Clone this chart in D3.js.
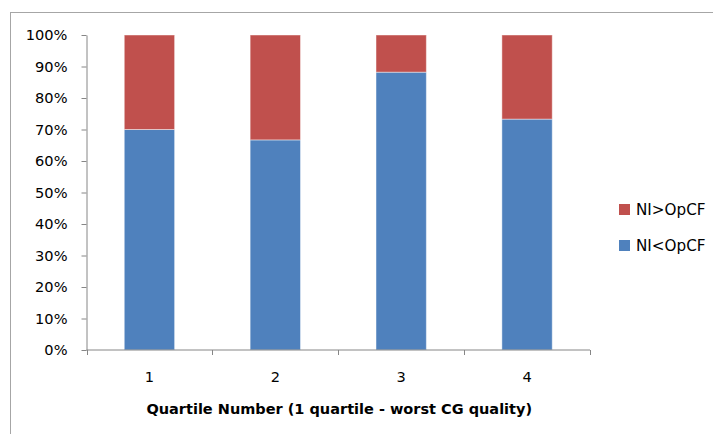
<!DOCTYPE html>
<html>
<head>
<meta charset="utf-8">
<script src="https://cdn.jsdelivr.net/npm/d3@7"></script>
<style>
  body { margin: 0; background: #fff; }
  svg text { font-family: "DejaVu Sans", sans-serif; fill: #000; }
</style>
</head>
<body>
<svg id="chart" width="713" height="434"></svg>
<script>
// Share of firms per corporate-governance quartile
const categories = ["1", "2", "3", "4"];
const seriesNames = ["NI<OpCF", "NI>OpCF"];
const niBelowOpCF = [0.700, 0.667, 0.882, 0.733];
const niAboveOpCF = [0.300, 0.333, 0.118, 0.267];
const seriesColors = ["#4F81BD", "#C0504D"];
const yTickValues = [0, 0.1, 0.2, 0.3, 0.4, 0.5, 0.6, 0.7, 0.8, 0.9, 1.0];
const xTitle = "Quartile Number (1 quartile - worst CG quality)";

const svg = d3.select("#chart");
const W = 713, H = 434;
const plot = { left: 86.5, right: 590, top: 35, bottom: 350 };

// outer chart frame
svg.append("rect")
  .attr("x", 10.5).attr("y", 12.5)
  .attr("width", W + 20).attr("height", H + 20)
  .attr("fill", "none").attr("stroke", "#a6a6a6").attr("stroke-width", 1);

const x = d3.scaleBand()
  .domain(categories)
  .range([plot.left, plot.right])
  .paddingInner(0.6)
  .paddingOuter(0.3);

const y = d3.scaleLinear().domain([0, 1]).range([plot.bottom, plot.top]);

// stack the two series
const rows = categories.map((c, i) => ({ cat: c, [seriesNames[0]]: niBelowOpCF[i], [seriesNames[1]]: niAboveOpCF[i] }));
const stacked = d3.stack().keys(seriesNames)(rows);

svg.append("g").selectAll("g")
  .data(stacked)
  .join("g")
  .attr("fill", (d, i) => seriesColors[i])
  .selectAll("rect")
  .data(d => d)
  .join("rect")
  .attr("x", d => x(d.data.cat))
  .attr("width", x.bandwidth())
  .attr("y", d => y(d[1]))
  .attr("height", d => y(d[0]) - y(d[1]))
  .attr("stroke", "rgba(255,255,255,0.45)")
  .attr("stroke-width", 1);

// y axis
const yAxis = svg.append("g")
  .attr("transform", `translate(${plot.left},0)`)
  .call(d3.axisLeft(y).tickValues(yTickValues).tickFormat(d3.format(".0%")).tickSize(5).tickSizeOuter(0).tickPadding(14));
yAxis.attr("font-size", null);
yAxis.selectAll("text").style("font-size", "14.6px");

// x axis: ticks at category boundaries
const xAxisG = svg.append("g").attr("transform", `translate(0,${plot.bottom})`);
xAxisG.append("line")
  .attr("x1", plot.left).attr("x2", plot.right)
  .attr("y1", 0).attr("y2", 0);
const step = x.step();
const boundaries = d3.range(categories.length + 1).map(i => plot.left + i * step);
xAxisG.selectAll("line.tick")
  .data(boundaries)
  .join("line")
  .attr("class", "tick")
  .attr("x1", d => Math.round(d) + 0.5).attr("x2", d => Math.round(d) + 0.5)
  .attr("y1", 0).attr("y2", 5);
xAxisG.selectAll("text")
  .data(categories)
  .join("text")
  .attr("x", d => x(d) + x.bandwidth() / 2)
  .attr("y", 32)
  .attr("text-anchor", "middle")
  .style("font-size", "14.6px")
  .text(d => d);

svg.selectAll(".domain, .tick line, g line")
  .attr("stroke", "#868686").attr("stroke-width", 1);

// x-axis title
svg.append("text")
  .attr("x", (plot.left + plot.right) / 2 + 1)
  .attr("y", 414)
  .attr("text-anchor", "middle")
  .style("font-size", "14.5px")
  .attr("font-weight", "bold")
  .text(xTitle);

// legend, top entry is the upper series
const legendItems = [
  { name: seriesNames[1], color: seriesColors[1] },
  { name: seriesNames[0], color: seriesColors[0] }
];
const legend = svg.append("g").selectAll("g")
  .data(legendItems)
  .join("g")
  .attr("transform", (d, i) => `translate(619,${204 + i * 36})`);
legend.append("rect").attr("width", 11).attr("height", 11).attr("fill", d => d.color);
legend.append("text").attr("x", 17).attr("y", 11).style("font-size", "15.2px").text(d => d.name);
</script>
</body>
</html>
